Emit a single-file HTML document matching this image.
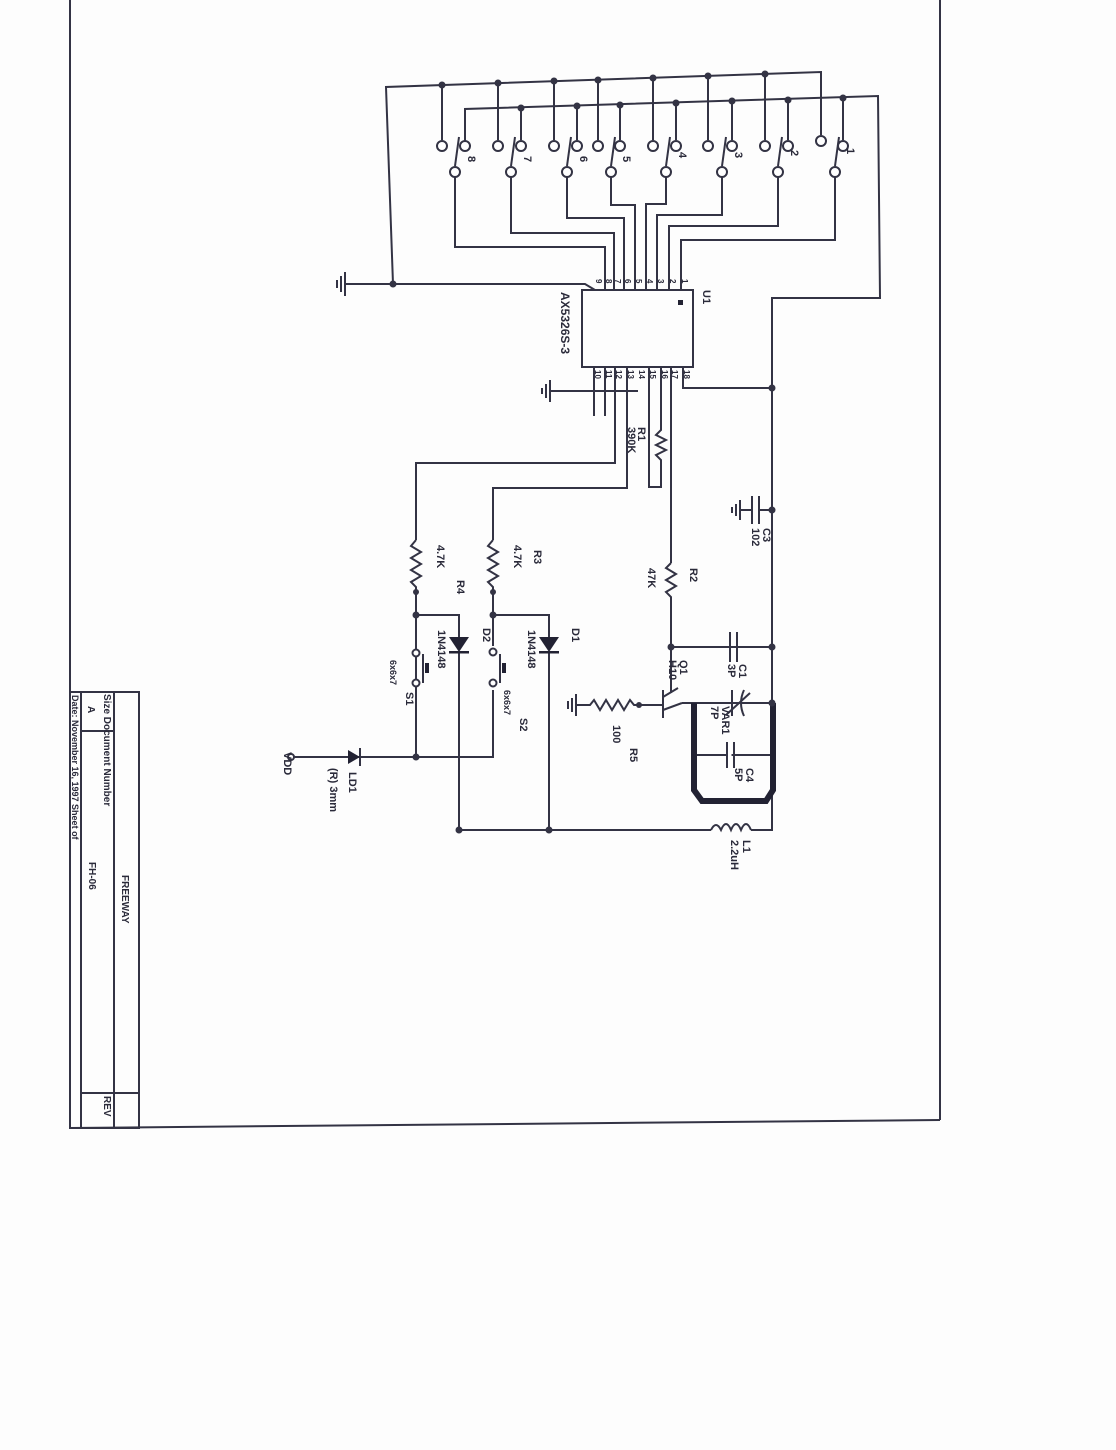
<!DOCTYPE html>
<html><head><meta charset="utf-8"><style>
html,body{margin:0;padding:0;background:#fff;}
svg{display:block;}
text{font-family:"Liberation Sans",sans-serif;fill:#2a2a3a;font-weight:bold;}
</style></head><body>
<svg width="1116" height="1450" viewBox="0 0 1116 1450" xmlns="http://www.w3.org/2000/svg">
<rect width="1116" height="1450" fill="#fdfdfd"/>
<g stroke="#333344" stroke-width="2" fill="none">
<line x1="70" y1="0" x2="70" y2="1128"/>
<line x1="70" y1="1128" x2="940" y2="1120"/>
<line x1="940" y1="0" x2="940" y2="1120"/>
<rect x="70" y="692" width="69" height="436"/>
<line x1="81" y1="692" x2="81" y2="1128"/>
<line x1="114" y1="692" x2="114" y2="1128"/>
<line x1="81" y1="731" x2="114" y2="731"/>
<line x1="81" y1="1093" x2="139" y2="1093"/>
<polyline points="393,284 386,87 821,72 821,135"/>
<line x1="442" y1="85" x2="442" y2="140"/>
<line x1="498" y1="83" x2="498" y2="140"/>
<line x1="554" y1="81" x2="554" y2="140"/>
<line x1="598" y1="80" x2="598" y2="140"/>
<line x1="653" y1="78" x2="653" y2="140"/>
<line x1="708" y1="76" x2="708" y2="140"/>
<line x1="765" y1="74" x2="765" y2="140"/>
<polyline points="465,142 465,109 878,96 880,298 772,298 772,830"/>
<line x1="521" y1="108" x2="521" y2="140"/>
<line x1="577" y1="106" x2="577" y2="140"/>
<line x1="620" y1="105" x2="620" y2="140"/>
<line x1="676" y1="103" x2="676" y2="140"/>
<line x1="732" y1="101" x2="732" y2="140"/>
<line x1="788" y1="100" x2="788" y2="140"/>
<line x1="843" y1="98" x2="843" y2="140"/>
<line x1="455" y1="166" x2="459" y2="137"/>
<line x1="511" y1="166" x2="515" y2="137"/>
<line x1="567" y1="166" x2="571" y2="137"/>
<line x1="611" y1="166" x2="615" y2="137"/>
<line x1="666" y1="166" x2="670" y2="137"/>
<line x1="722" y1="166" x2="726" y2="137"/>
<line x1="778" y1="166" x2="782" y2="137"/>
<line x1="835" y1="166" x2="839" y2="137"/>
<polyline points="455,177 455,247 605,247 605,290"/>
<polyline points="511,177 511,233 614,233 614,290"/>
<polyline points="567,177 567,218 624,218 624,290"/>
<polyline points="611,177 611,205 635,205 635,290"/>
<polyline points="666,177 666,204 646,204 646,290"/>
<polyline points="722,177 722,215 657,215 657,290"/>
<polyline points="778,177 778,226 669,226 669,290"/>
<polyline points="835,177 835,240 681,240 681,290"/>
<polyline points="345,284 585,284 595,290"/>
<line x1="345" y1="272" x2="345" y2="296"/>
<line x1="341" y1="276" x2="341" y2="292"/>
<line x1="337" y1="280" x2="337" y2="288"/>
<rect x="582" y="290" width="111" height="77"/>
<line x1="594" y1="367" x2="594" y2="416"/>
<line x1="605" y1="367" x2="605" y2="416"/>
<line x1="550" y1="391" x2="638" y2="391"/>
<line x1="550" y1="380" x2="550" y2="402"/>
<line x1="546" y1="384" x2="546" y2="398"/>
<line x1="542" y1="388" x2="542" y2="394"/>
<polyline points="615,367 615,463 416,463 416,540"/>
<polyline points="627,367 627,488 493,488 493,540"/>
<polyline points="649,367 649,487 661,487 661,460 656,455 666,450 656,445 666,440 656,435 661,430 661,367"/>
<polyline points="683,367 683,388 772,388"/>
<line x1="671" y1="367" x2="671" y2="563"/>
<polyline points="671,563 666,568 676,574 666,580 676,586 666,592 671,597 671,693"/>
<line x1="671" y1="647" x2="772" y2="647"/>
<line x1="730" y1="632" x2="730" y2="662"/>
<line x1="737" y1="632" x2="737" y2="662"/>
<line x1="759" y1="510" x2="772" y2="510"/>
<line x1="759" y1="496" x2="759" y2="524"/>
<line x1="752" y1="496" x2="752" y2="524"/>
<line x1="752" y1="510" x2="740" y2="510"/>
<line x1="740" y1="500" x2="740" y2="520"/>
<line x1="736" y1="504" x2="736" y2="516"/>
<line x1="732" y1="507" x2="732" y2="513"/>
<line x1="663" y1="690" x2="663" y2="718"/>
<line x1="663" y1="697" x2="678" y2="688"/>
<line x1="663" y1="710" x2="682" y2="703"/>
<line x1="682" y1="703" x2="692" y2="703"/>
<polyline points="576,705 590,705 594,700 600,710 606,700 612,710 618,700 624,710 630,700 634,705 663,705"/>
<line x1="576" y1="694" x2="576" y2="716"/>
<line x1="572" y1="698" x2="572" y2="712"/>
<line x1="568" y1="701" x2="568" y2="709"/>
<line x1="692" y1="703" x2="773" y2="703"/>
<line x1="732" y1="690" x2="732" y2="716"/>
<path d="M744,690 Q738,703 744,716"/>
<line x1="726" y1="715" x2="750" y2="693"/>
<line x1="696" y1="755" x2="770" y2="755"/>
<line x1="729" y1="742" x2="729" y2="768" stroke="#fff" stroke-width="5"/>
<line x1="727" y1="742" x2="727" y2="768"/>
<line x1="734" y1="742" x2="734" y2="768"/>
<polyline points="459,652 459,830 711,830"/>
<path d="M711,830 q5,-10 10,0 q5,-12 10,0 q5,-12 10,0 q5,-12 10,0"/>
<polyline points="751,830 773,830"/>
<polyline points="549,652 549,830"/>
<polyline points="416,540 411,546 421,552 411,558 421,564 411,570 421,576 411,582 416,587 416,757"/>
<polyline points="416,615 459,615 459,637"/>
<polyline points="493,540 488,546 498,552 488,558 498,564 488,570 498,576 488,582 493,587 493,646"/>
<polyline points="493,615 549,615 549,637"/>
<polyline points="493,690 493,757 291,757"/>
<line x1="423" y1="654" x2="423" y2="683"/>
<line x1="500" y1="654" x2="500" y2="683"/>
<line x1="360" y1="748" x2="360" y2="766"/>
</g>
<path d="M694,703 L694,790 L702,801 L766,801 L773,790 L773,703" stroke="#222233" stroke-width="6" fill="none"/>
<g fill="#222233">
<polygon points="449,637 469,637 459,652"/><rect x="449" y="651" width="20" height="2.5"/>
<polygon points="539,637 559,637 549,652"/><rect x="539" y="651" width="20" height="2.5"/>
<polygon points="348,750 348,764 360,757"/>
<rect x="425" y="663" width="4" height="10"/><rect x="502" y="663" width="4" height="10"/>
<rect x="678" y="300" width="5" height="5"/>
</g>
<g fill="#fff" stroke="#333344" stroke-width="2">
<circle cx="442" cy="146" r="5"/><circle cx="498" cy="146" r="5"/><circle cx="554" cy="146" r="5"/><circle cx="598" cy="146" r="5"/>
<circle cx="653" cy="146" r="5"/><circle cx="708" cy="146" r="5"/><circle cx="765" cy="146" r="5"/><circle cx="821" cy="141" r="5"/>
<circle cx="465" cy="146" r="5"/><circle cx="521" cy="146" r="5"/><circle cx="577" cy="146" r="5"/><circle cx="620" cy="146" r="5"/>
<circle cx="676" cy="146" r="5"/><circle cx="732" cy="146" r="5"/><circle cx="788" cy="146" r="5"/><circle cx="843" cy="146" r="5"/>
<circle cx="455" cy="172" r="5"/><circle cx="511" cy="172" r="5"/><circle cx="567" cy="172" r="5"/><circle cx="611" cy="172" r="5"/>
<circle cx="666" cy="172" r="5"/><circle cx="722" cy="172" r="5"/><circle cx="778" cy="172" r="5"/><circle cx="835" cy="172" r="5"/>
<circle cx="416" cy="653" r="3.5"/><circle cx="416" cy="683" r="3.5"/>
<circle cx="493" cy="652" r="3.5"/><circle cx="493" cy="683" r="3.5"/>
<circle cx="291" cy="757" r="3"/>
</g>
<g fill="#333344">
<circle cx="442" cy="85" r="3.5"/><circle cx="498" cy="83" r="3.5"/><circle cx="554" cy="81" r="3.5"/><circle cx="598" cy="80" r="3.5"/>
<circle cx="653" cy="78" r="3.5"/><circle cx="708" cy="76" r="3.5"/><circle cx="765" cy="74" r="3.5"/>
<circle cx="521" cy="108" r="3.5"/><circle cx="577" cy="106" r="3.5"/><circle cx="620" cy="105" r="3.5"/><circle cx="676" cy="103" r="3.5"/>
<circle cx="732" cy="101" r="3.5"/><circle cx="788" cy="100" r="3.5"/><circle cx="843" cy="98" r="3.5"/>
<circle cx="393" cy="284" r="3.5"/><circle cx="772" cy="388" r="3.5"/><circle cx="772" cy="510" r="3.5"/>
<circle cx="772" cy="647" r="3.5"/><circle cx="671" cy="647" r="3.5"/><circle cx="772" cy="703" r="3.5"/>
<circle cx="416" cy="592" r="3"/><circle cx="416" cy="615" r="3.5"/><circle cx="493" cy="592" r="3"/><circle cx="493" cy="615" r="3.5"/>
<circle cx="416" cy="757" r="3.5"/><circle cx="459" cy="830" r="3.5"/><circle cx="549" cy="830" r="3.5"/><circle cx="639" cy="705" r="3"/>
</g>
<g font-size="11">
<text transform="translate(468,156) rotate(90)">8</text>
<text transform="translate(524,156) rotate(90)">7</text>
<text transform="translate(580,156) rotate(90)">6</text>
<text transform="translate(623,156) rotate(90)">5</text>
<text transform="translate(679,152) rotate(90)">4</text>
<text transform="translate(735,152) rotate(90)">3</text>
<text transform="translate(791,150) rotate(90)">2</text>
<text transform="translate(847,148) rotate(90)">1</text>
<text transform="translate(703,290) rotate(90)">U1</text>
<text transform="translate(561,292) rotate(90)" font-size="12">AX5326S-3</text>
<text transform="translate(638,427) rotate(90)">R1</text>
<text transform="translate(628,427) rotate(90)">390K</text>
<text transform="translate(690,568) rotate(90)">R2</text>
<text transform="translate(648,568) rotate(90)">47K</text>
<text transform="translate(763,528) rotate(90)">C3</text>
<text transform="translate(752,528) rotate(90)">102</text>
<text transform="translate(739,664) rotate(90)">C1</text>
<text transform="translate(728,664) rotate(90)">3P</text>
<text transform="translate(680,660) rotate(90)">Q1</text>
<text transform="translate(669,660) rotate(90)">H10</text>
<text transform="translate(722,706) rotate(90)">VAR1</text>
<text transform="translate(711,706) rotate(90)">7P</text>
<text transform="translate(746,768) rotate(90)">C4</text>
<text transform="translate(735,768) rotate(90)">5P</text>
<text transform="translate(743,840) rotate(90)">L1</text>
<text transform="translate(731,840) rotate(90)">2.2uH</text>
<text transform="translate(630,748) rotate(90)">R5</text>
<text transform="translate(613,725) rotate(90)">100</text>
<text transform="translate(572,628) rotate(90)">D1</text>
<text transform="translate(528,630) rotate(90)">1N4148</text>
<text transform="translate(483,628) rotate(90)">D2</text>
<text transform="translate(438,630) rotate(90)">1N4148</text>
<text transform="translate(514,545) rotate(90)">4.7K</text>
<text transform="translate(534,550) rotate(90)">R3</text>
<text transform="translate(437,545) rotate(90)">4.7K</text>
<text transform="translate(457,580) rotate(90)">R4</text>
<text transform="translate(520,718) rotate(90)">S2</text>
<text transform="translate(504,690) rotate(90)" font-size="9">6x6x7</text>
<text transform="translate(406,692) rotate(90)">S1</text>
<text transform="translate(390,660) rotate(90)" font-size="9">6x6x7</text>
<text transform="translate(284,752) rotate(90)">VDD</text>
<text transform="translate(349,772) rotate(90)">LD1</text>
<text transform="translate(330,768) rotate(90)">(R) 3mm</text>
</g>
<g font-size="8">
<text transform="translate(596,279) rotate(90)">9</text>
<text transform="translate(606,279) rotate(90)">8</text>
<text transform="translate(615,279) rotate(90)">7</text>
<text transform="translate(625,279) rotate(90)">6</text>
<text transform="translate(636,279) rotate(90)">5</text>
<text transform="translate(647,279) rotate(90)">4</text>
<text transform="translate(658,279) rotate(90)">3</text>
<text transform="translate(670,279) rotate(90)">2</text>
<text transform="translate(682,279) rotate(90)">1</text>
<text transform="translate(595,370) rotate(90)">10</text>
<text transform="translate(606,370) rotate(90)">11</text>
<text transform="translate(616,370) rotate(90)">12</text>
<text transform="translate(628,370) rotate(90)">13</text>
<text transform="translate(639,370) rotate(90)">14</text>
<text transform="translate(650,370) rotate(90)">15</text>
<text transform="translate(662,370) rotate(90)">16</text>
<text transform="translate(672,370) rotate(90)">17</text>
<text transform="translate(684,370) rotate(90)">18</text>
</g>
<g font-size="10">
<text transform="translate(122,875) rotate(90)">FREEWAY</text>
<text transform="translate(104,694) rotate(90)">Size Document Number</text>
<text transform="translate(88,706) rotate(90)">A</text>
<text transform="translate(89,862) rotate(90)">FH-06</text>
<text transform="translate(72,695) rotate(90)" font-size="9">Date:  November 16, 1997 Sheet        of</text>
<text transform="translate(104,1096) rotate(90)">REV</text>
</g>
</svg>
</body></html>
